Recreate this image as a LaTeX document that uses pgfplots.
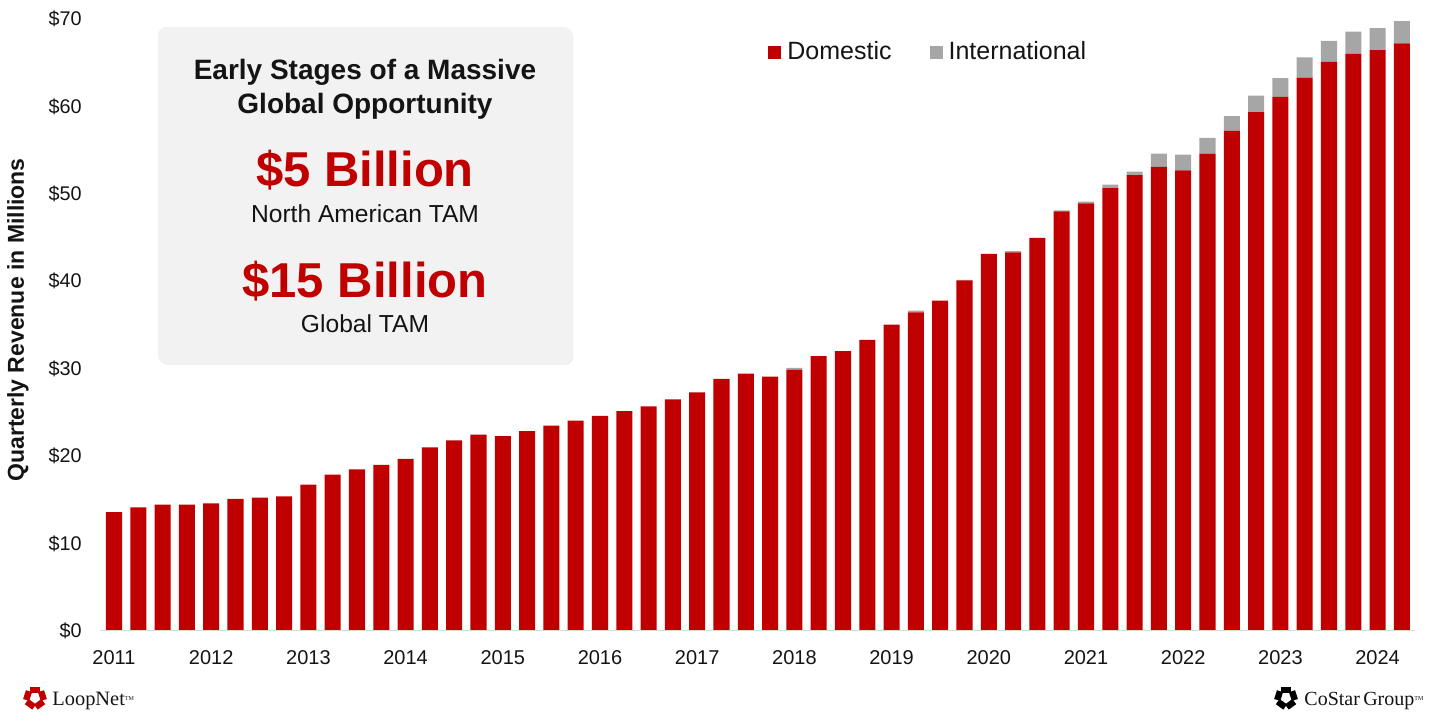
\documentclass[border=0pt]{standalone}
\usepackage{pgfplots}
\pgfplotsset{compat=1.18}
\usepackage{fontspec}
\setmainfont{Liberation Sans}
\newfontfamily\logofont{Liberation Serif}
\usetikzlibrary{shadows}

\definecolor{dom}{HTML}{C00000}
\definecolor{intl}{HTML}{A6A6A6}
\definecolor{boxbg}{HTML}{F2F2F2}
\definecolor{txt}{HTML}{141414}

% quarter index (0 = 2011 Q1), domestic and international revenue, $M
\pgfplotstableread{
q  dom   intl
0  13.6  0
1  14.15 0
2  14.45 0
3  14.45 0
4  14.6  0
5  15.1  0
6  15.25 0
7  15.4  0
8  16.75 0
9  17.9  0
10 18.5  0
11 19.0  0
12 19.7  0
13 21.0  0
14 21.8  0
15 22.45 0
16 22.3  0
17 22.85 0
18 23.5  0
19 24.05 0
20 24.6  0
21 25.15 0
22 25.7  0
23 26.5  0
24 27.3  0
25 28.85 0
26 29.45 0
27 29.1  0
28 29.9  0.2
29 31.45 0
30 32.0  0
31 33.3  0
32 35.05 0
33 36.45 0.2
34 37.8  0
35 40.1  0.05
36 43.1  0.05
37 43.3  0.15
38 44.95 0.05
39 48.0  0.1
40 48.9  0.2
41 50.65 0.4
42 52.15 0.4
43 53.1  1.5
44 52.7  1.8
45 54.6  1.8
46 57.2  1.7
47 59.35 1.9
48 61.1  2.15
49 63.3  2.3
50 65.1  2.4
51 66.0  2.55
52 66.45 2.5
53 67.2  2.55
}\revenue

\pgfplotsset{sq legend/.style={legend image code/.code={%
  \draw[##1,/tikz/.cd,draw=none] (0pt,-3.25pt) rectangle (6.5pt,3.25pt);}}}

\begin{document}
\begin{tikzpicture}
\useasboundingbox (0,0) rectangle (717pt,358.5pt);

% callout box, y label and logos in pixel-like coordinates (origin top left)
\begin{scope}[x=0.5pt,y=-0.5pt,shift={(0pt,358.5pt)}]
  \path[fill=boxbg, rounded corners=4pt,
        drop shadow={opacity=0.12, shadow xshift=0.7pt, shadow yshift=-0.9pt}]
    (158,27) rectangle (572,363);
  \node[anchor=base, text=txt, font=\bfseries\fontsize{14}{16}\selectfont] at (365,80) {Early Stages of a Massive};
  \node[anchor=base, text=txt, font=\bfseries\fontsize{14}{16}\selectfont] at (365,114) {Global Opportunity};
  \node[anchor=base, text=dom, font=\bfseries\fontsize{24.5}{28}\selectfont] at (365,187) {\$5 Billion};
  \node[anchor=base, text=txt, font=\fontsize{12.3}{14}\selectfont] at (365,223) {North American TAM};
  \node[anchor=base, text=dom, font=\bfseries\fontsize{24.5}{28}\selectfont] at (365,298) {\$15 Billion};
  \node[anchor=base, text=txt, font=\fontsize{12.3}{14}\selectfont] at (365,333) {Global TAM};

  \node[rotate=90, text=txt, font=\bfseries\fontsize{11.5}{14}\selectfont] at (18,320) {Quarterly Revenue in Millions};

  \foreach \a in {18,90,162,234,306}
    \node[fill=dom, inner sep=0pt, minimum width=4.6pt, minimum height=3.2pt, rotate=\a+90]
      at ([shift={(\a:3.9pt)}]35,698) {};
  \node[anchor=base west, inner sep=0pt, text=txt, font=\logofont\fontsize{10.2}{12}\selectfont] at (52,706)
    {LoopNet\raisebox{0.6ex}{\fontsize{3}{3}\selectfont TM}};
  \foreach \a in {18,90,162,234,306}
    \node[fill=black, inner sep=0pt, minimum width=4.6pt, minimum height=3.2pt, rotate=\a+90]
      at ([shift={(\a:3.9pt)}]1286,698) {};
  \node[anchor=base west, inner sep=0pt, text=txt, font=\logofont\fontsize{10}{12}\selectfont] at (1304,706)
    {CoStar\,Group\raisebox{0.6ex}{\fontsize{3}{3}\selectfont TM}};
\end{scope}

\begin{axis}[
  at={(50pt,43pt)}, anchor=south west,
  scale only axis, width=657.5pt, height=306pt,
  ybar stacked, bar width=0.66,
  xmin=-0.576, xmax=53.54, ymin=0, ymax=70,
  axis line style={draw=none},
  major tick length=0pt,
  xtick={0,4,...,52},
  xticklabels={2011,2012,2013,2014,2015,2016,2017,2018,2019,2020,2021,2022,2023,2024},
  ytick={0,10,...,70},
  yticklabel={\$\pgfmathprintnumber{\tick}},
  /pgf/number format/assume math mode=true,
  xticklabel style={font=\fontsize{10}{12}\selectfont, text=txt, inner sep=0pt, yshift=-9.5pt},
  yticklabel style={font=\fontsize{9.9}{12}\selectfont, text=txt, inner sep=0pt, xshift=-9pt},
  legend style={draw=none, fill=none, at={(0.508,0.946)}, anchor=west,
    legend columns=2, inner xsep=0pt, inner ysep=0pt,
    font=\fontsize{12.5}{14}\selectfont, text=txt,
    nodes={inner sep=3pt},
    /tikz/every even column/.append style={column sep=16pt}},
]
\draw[gray!30, line width=0.8pt] (rel axis cs:0,0) -- (rel axis cs:1,0);
\addplot[fill=dom, draw=none, sq legend] table[x=q, y=dom] {\revenue};
\addplot[fill=intl, draw=none, sq legend] table[x=q, y=intl] {\revenue};
\legend{Domestic, International}
\end{axis}
\end{tikzpicture}
\end{document}
